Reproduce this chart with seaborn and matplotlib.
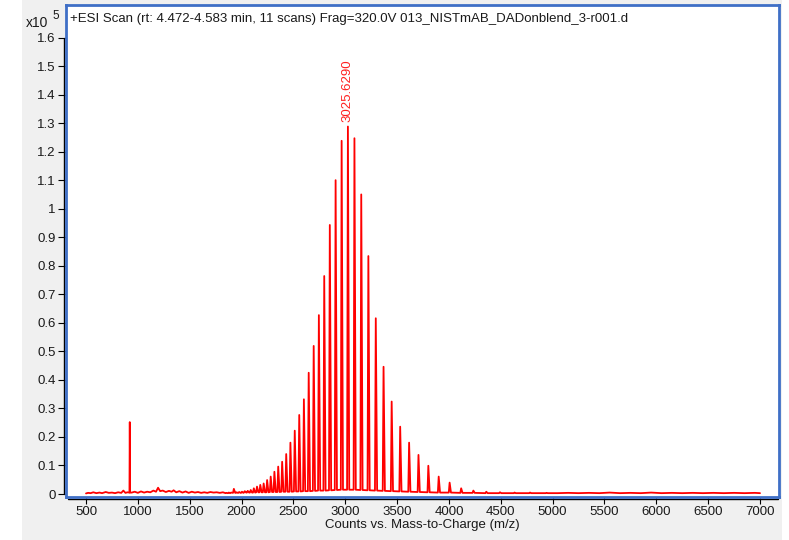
import numpy as np
import pandas as pd
import matplotlib
matplotlib.use("Agg")
import matplotlib.pyplot as plt
import matplotlib.transforms as mtransforms
from matplotlib.patches import Rectangle
import seaborn as sns

# ---- data (intensities in units of 1e5 counts) ----
# baseline noise below the charge envelope
noise_mz = [500, 520, 545, 570, 600, 630, 655, 690, 720, 750,
            780, 810, 840, 860, 880, 900, 940, 970, 1000, 1030,
            1060, 1090, 1120, 1150, 1175, 1195, 1215, 1240, 1270, 1300,
            1325, 1345, 1370, 1400, 1430, 1460, 1490, 1520, 1550, 1580,
            1610, 1640, 1670, 1700, 1730, 1760, 1790, 1820]
noise_counts = [0.002, 0.004, 0.003, 0.006, 0.003, 0.005, 0.003, 0.007, 0.004, 0.005,
                0.003, 0.006, 0.004, 0.012, 0.004, 0.006, 0.005, 0.008, 0.004, 0.009,
                0.005, 0.008, 0.006, 0.012, 0.008, 0.022, 0.010, 0.012, 0.007, 0.011,
                0.008, 0.013, 0.006, 0.010, 0.005, 0.009, 0.004, 0.008, 0.005, 0.007,
                0.004, 0.006, 0.004, 0.007, 0.005, 0.006, 0.004, 0.006]

# reference mass spike
ref_mz = 922.01
ref_counts = 0.252

# charge state envelope (z = 80 ... 30)
env_mz = [1853.58, 1877.04, 1901.08, 1925.76, 1951.08, 1977.09, 2003.79, 2031.23, 2059.42, 2088.42,
          2118.23, 2148.92, 2180.51, 2213.04, 2246.55, 2281.10, 2316.73, 2353.49, 2391.43, 2430.62,
          2471.11, 2512.98, 2556.29, 2601.11, 2647.55, 2695.66, 2745.56, 2797.35, 2851.12, 2907.01,
          2965.13, 3025.63, 3088.63, 3154.33, 3222.88, 3294.47, 3369.32, 3447.66, 3529.72, 3615.79,
          3706.16, 3801.16, 3901.17, 4006.57, 4117.84, 4235.46, 4360.01, 4492.10, 4632.44, 4781.85,
          4941.21]
env_counts = [0.004, 0.005, 0.005, 0.018, 0.006, 0.007, 0.008, 0.010, 0.011, 0.014,
              0.020, 0.026, 0.032, 0.037, 0.049, 0.061, 0.078, 0.096, 0.113, 0.140,
              0.180, 0.222, 0.277, 0.332, 0.425, 0.519, 0.627, 0.764, 0.943, 1.100,
              1.238, 1.288, 1.247, 1.050, 0.834, 0.616, 0.446, 0.324, 0.236, 0.180,
              0.137, 0.099, 0.061, 0.040, 0.020, 0.012, 0.008, 0.006, 0.005, 0.005,
              0.004]
env_valley = [0.003, 0.003, 0.004, 0.004, 0.004, 0.004, 0.004, 0.005, 0.005, 0.005,
              0.005, 0.006, 0.006, 0.006, 0.006, 0.007, 0.007, 0.007, 0.008, 0.008,
              0.008, 0.009, 0.009, 0.010, 0.010, 0.011, 0.012, 0.012, 0.013, 0.014,
              0.015, 0.015, 0.015, 0.014, 0.013, 0.012, 0.011, 0.010, 0.009, 0.008,
              0.007, 0.006, 0.005, 0.005, 0.004, 0.004, 0.003, 0.003, 0.003, 0.003,
              0.003]

# flat tail at high m/z
tail_mz = [5050, 5150, 5250, 5350, 5450, 5550, 5650, 5750, 5850, 5950,
           6050, 6150, 6250, 6350, 6450, 6550, 6650, 6750, 6850, 6950, 7000]
tail_counts = [0.003, 0.004, 0.003, 0.004, 0.003, 0.005, 0.003, 0.004, 0.003, 0.005,
               0.003, 0.004, 0.003, 0.004, 0.003, 0.004, 0.003, 0.004, 0.003, 0.004, 0.003]

label_mz = 3025.6290
x_ticks = list(range(500, 7001, 500))
y_ticks = [round(0.1 * i, 1) for i in range(17)]

title = "+ESI Scan (rt: 4.472-4.583 min, 11 scans) Frag=320.0V 013_NISTmAB_DADonblend_3-r001.d"
xlabel = "Counts vs. Mass-to-Charge (m/z)"

# ---- build the profile trace ----
PEAK_LEFT, PEAK_RIGHT = 8, 13
rows = list(zip(noise_mz, noise_counts)) + list(zip(tail_mz, tail_counts))
rows += [(ref_mz - 3, 0.005), (ref_mz, ref_counts), (ref_mz + 3, 0.005)]
for mz, h, v in zip(env_mz, env_counts, env_valley):
    rows += [(mz - PEAK_LEFT, v), (mz, h), (mz + PEAK_RIGHT, v)]
spec = pd.DataFrame(rows, columns=["mz", "counts"]).sort_values("mz").reset_index(drop=True)

# ---- style ----
sns.set_style("white")
plt.rcParams["font.family"] = ["Liberation Sans", "DejaVu Sans"]
plt.rcParams["font.size"] = 9.5

blue = "#3f6fc6"
grey = "#f0f0f0"
ink = "#1a1a1a"

fig = plt.figure(figsize=(7.89, 5.40), dpi=100)
fig.patch.set_facecolor("white")
fig.patches.append(Rectangle((22 / 789, 0), 760 / 789, 1, transform=fig.transFigure,
                             facecolor=grey, edgecolor="none", zorder=-10))

ax = fig.add_axes([66 / 789, 43 / 540, 713 / 789, 492 / 540])
ax.set_facecolor("white")

sns.lineplot(data=spec, x="mz", y="counts", estimator=None, sort=False,
             color="#ff0000", linewidth=1.3, ax=ax)

ax.set_xlim(307, 7183)
ax.set_ylim(-0.0105, 1.714)
ax.set_xticks(x_ticks)
ax.set_xticklabels([str(t) for t in x_ticks])
ax.set_yticks(y_ticks)
ax.set_yticklabels(["%g" % t for t in y_ticks])

for s in ax.spines.values():
    s.set_color(blue)
    s.set_linewidth(2)
    s.set_visible(True)

ax.tick_params(axis="y", direction="out", length=5.8, width=0.8, color="black",
               pad=1.5, left=True, labelsize=9.5, labelcolor=ink)
ax.tick_params(axis="x", direction="out", length=5.0, width=0.8, color="black",
               pad=1.5, bottom=True, labelsize=9.5, labelcolor=ink)

# black axis lines just outside the blue frame
ty = mtransforms.blended_transform_factory(ax.transAxes, ax.transData)
ax.plot([-0.0028, -0.0028], [0, 1.6], transform=ty, color="black", lw=1.0, clip_on=False)
ax.plot([0.003, 0.9986], [-0.004, -0.004], transform=ax.transAxes, color="black",
        lw=1.0, clip_on=False)

ax.set_xlabel(xlabel, fontsize=9.5, labelpad=0.5, color=ink)
ax.set_ylabel("")

ax.text(0.0056, 0.9715, title, transform=ax.transAxes, ha="left", va="center",
        fontsize=9.5, color=ink)

peak_i = env_mz.index(3025.63)
ax.annotate("%.4f" % label_mz, xy=(env_mz[peak_i], env_counts[peak_i]),
            xytext=(0, 3), textcoords="offset points", rotation=90,
            ha="center", va="bottom", fontsize=9.5, color="#ff2020")

fig.text(26 / 789, 1 - 23 / 540, "x10", ha="left", va="center", fontsize=10, color=ink)
fig.text(52 / 789, 1 - 16 / 540, "5", ha="left", va="center", fontsize=8.5, color=ink)

fig.savefig("out.png", dpi=100, facecolor=fig.get_facecolor())
